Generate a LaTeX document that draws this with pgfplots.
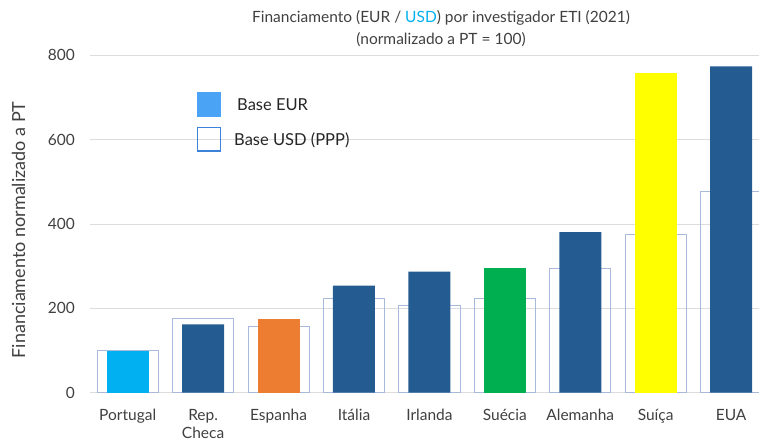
\documentclass[border=0pt]{standalone}
\usepackage{pgfplots}
\pgfplotsset{compat=1.18}
\usepackage{fontspec}
\setmainfont{Lato}
\definecolor{dblue}{HTML}{245C91}
\definecolor{cyanb}{HTML}{00B0F0}
\definecolor{orng}{HTML}{ED7D31}
\definecolor{grn}{HTML}{00B050}
\definecolor{yel}{HTML}{FFFF00}
\definecolor{outl}{HTML}{A9B9DB}
\definecolor{legfill}{HTML}{4AA3F5}
\definecolor{legdraw}{HTML}{3B82D9}
\definecolor{gridc}{HTML}{DCDCDC}
\definecolor{txt}{HTML}{404040}
\newcommand{\hs}{\vphantom{Í}}
\begin{document}
\begin{tikzpicture}[x=1pt,y=1pt]
\begin{axis}[
  at={(90pt,48.3pt)}, anchor=south west,
  width=669pt, height=337.4pt, scale only axis,
  xmin=-0.5, xmax=8.37, ymin=0, ymax=800,
  axis line style={draw=none},
  major tick length=0pt,
  ytick={0,200,400,600,800},
  ymajorgrids, grid style={draw=gridc, line width=0.9pt},
  xtick={0,1,2,3,4,5,6,7,8},
  xticklabels={{\hs Portugal},{\hs Rep.\\Checa},{\hs Espanha},{\hs Itália},{\hs Irlanda},{\hs Suécia},{\hs Alemanha},{\hs Suíça},{\hs EUA}},
  xticklabel style={align=center, anchor=north, yshift=-13pt, inner sep=0pt,
    font=\fontsize{15.5}{17.8}\selectfont, text=txt},
  yticklabel style={anchor=east, xshift=-15pt, inner sep=0pt,
    font=\fontsize{15.5}{18}\selectfont, text=txt},
  /pgf/number format/assume math mode=true,
]
% USD (PPP) base: outlines
\addplot[ybar, bar width=0.81, draw=outl, fill=none, line width=0.9pt] coordinates {
 (0,100) (1,176) (2,158) (3,224) (4,206) (5,224) (6,295) (7,376) (8,478)};
% EUR base: filled bars
\addplot[ybar, bar width=0.557, draw=none, fill=cyanb] coordinates {(0,100)};
\addplot[ybar, bar width=0.557, draw=none, fill=dblue] coordinates {(1,162) (3,254) (4,287) (6,381) (8,774)};
\addplot[ybar, bar width=0.557, draw=none, fill=orng] coordinates {(2,174)};
\addplot[ybar, bar width=0.557, draw=none, fill=grn] coordinates {(5,296)};
\addplot[ybar, bar width=0.557, draw=none, fill=yel] coordinates {(7,757)};
\end{axis}
% title
\node[align=center, font=\fontsize{15.5}{22}\selectfont, text=txt] at (441,412)
  {Financiamento (EUR / \textcolor{cyanb}{USD}) por investigador ETI (2021)\\(normalizado a PT = 100)};
% y label
\node[rotate=90, inner sep=0pt, font=\fontsize{18}{20}\selectfont, text=txt] at (18.5,211) {Financiamento normalizado a PT};
% legend
\fill[legfill] (197,324.3) rectangle (221,349.3);
\draw[legdraw, line width=1.2pt] (197.6,289.9) rectangle (220.4,313.7);
\node[anchor=base west, inner sep=0pt, font=\fontsize{16.5}{18}\selectfont, text=black!85] at (237,330) {Base EUR};
\node[anchor=base west, inner sep=0pt, font=\fontsize{16.5}{18}\selectfont, text=black!85] at (234,295) {Base USD (PPP)};
\pgfresetboundingbox
\useasboundingbox (0,0) rectangle (759,441);
\end{tikzpicture}
\end{document}
